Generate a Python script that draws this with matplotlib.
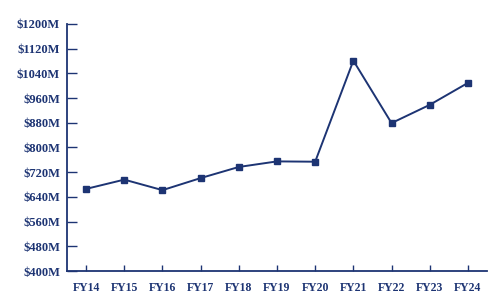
import matplotlib
matplotlib.use('Agg')
import matplotlib.pyplot as plt
from matplotlib.ticker import FuncFormatter

# Данные (млн $)
years = ['FY14', 'FY15', 'FY16', 'FY17', 'FY18', 'FY19', 'FY20', 'FY21', 'FY22', 'FY23', 'FY24']
revenue = [666, 696, 662, 701, 737, 755, 754, 1081, 879, 938, 1009]
y_ticks = [400, 480, 560, 640, 720, 800, 880, 960, 1040, 1120, 1200]

navy = '#1d3473'

plt.rcParams['font.family'] = ['Liberation Serif', 'DejaVu Serif']

fig = plt.figure(figsize=(5, 3.06), dpi=100)
ax = fig.add_axes([0.134, 0.114, 0.84, 0.808])

x = list(range(len(years)))
ax.plot(x, revenue, color=navy, linewidth=1.4, marker='s', markersize=4.5)

ax.set_xlim(-0.5, len(years) - 0.5)
ax.set_ylim(400, 1200)
ax.set_xticks(x)
ax.set_xticklabels(years)
ax.set_yticks(y_ticks)
ax.yaxis.set_major_formatter(FuncFormatter(lambda v, pos: '${:d}M'.format(int(v))))

for side in ['top', 'right']:
    ax.spines[side].set_visible(False)
for side in ['left', 'bottom']:
    ax.spines[side].set_color(navy)
    ax.spines[side].set_linewidth(1.3)

ax.tick_params(axis='y', direction='in', length=7, width=1, color=navy, pad=5,
               labelcolor=navy, labelsize=9)
ax.tick_params(axis='x', direction='in', length=4.5, width=1, color=navy, pad=8,
               labelcolor=navy, labelsize=8.5)
for lbl in ax.get_xticklabels() + ax.get_yticklabels():
    lbl.set_fontweight('bold')

fig.savefig('out.png', dpi=100, transparent=True)
